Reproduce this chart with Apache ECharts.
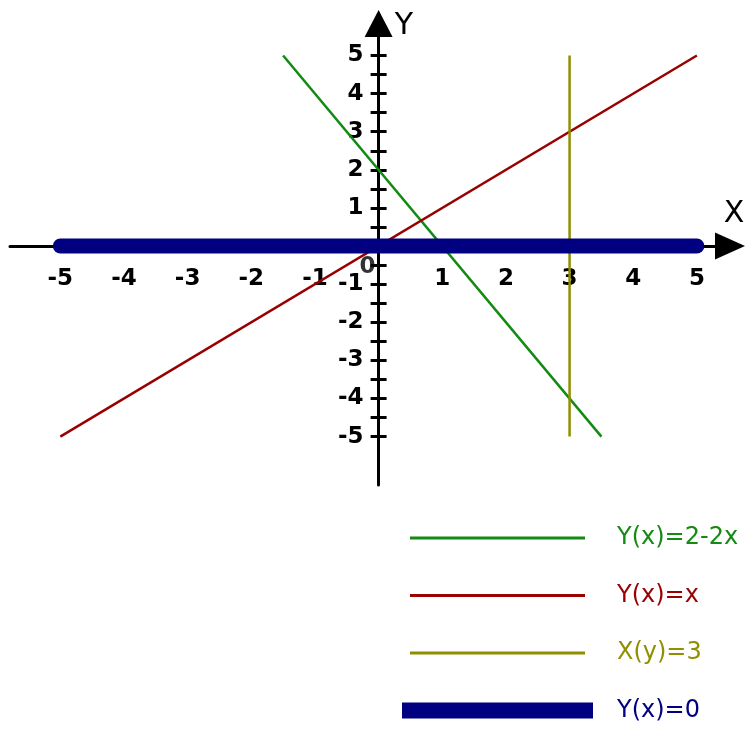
<!DOCTYPE html>
<html>
<head>
<meta charset="utf-8">
<script src="https://cdn.jsdelivr.net/npm/echarts@6/dist/echarts.min.js"></script>
<style>
  html, body { margin: 0; padding: 0; background: #fff; }
  #main { width: 747px; height: 736px; }
</style>
</head>
<body>
<div id="main"></div>
<script>
// tick labels
const xLabels = [-5, -4, -3, -2, -1, 1, 2, 3, 4, 5];
const yLabels = [-5, -4, -3, -2, -1, 1, 2, 3, 4, 5];
const yTicks = [-5, -4.5, -4, -3.5, -3, -2.5, -2, -1.5, -1, -0.5, 0, 0.5, 1, 1.5, 2, 2.5, 3, 3.5, 4, 4.5, 5];

// series: [x, y] end points
const greenLine = [[-1.5, 5], [3.5, -5]];   // Y(x)=2-2x
const redLine = [[-5, -5], [5, 5]];         // Y(x)=x
const oliveLine = [[3, -5], [3, 5]];        // X(y)=3
const blueLine = [[-5, 0], [5, 0]];         // Y(x)=0
const origin = [[0, 0]];

const names = ["Y(x)=2-2x", "Y(x)=x", "X(y)=3", "Y(x)=0"];
const colors = ["#138a13", "#990000", "#8f8f00", "#000080"];

const chart = echarts.init(document.getElementById("main"));
const font = "DejaVu Sans";

// grid box and axis ranges
const gLeft = 10, gRight = 17, gTop = 23.5, gBottom = 251;
const xMin = -5.79, xMax = 5.52, yMin = -6.27, yMax = 5.84;
const gW = 747 - gLeft - gRight, gH = 736 - gTop - gBottom;
// pixel of the origin, used to put the axes through 0
const zeroX = gLeft + (0 - xMin) / (xMax - xMin) * gW;
const zeroY = gTop + (yMax - 0) / (yMax - yMin) * gH;

const axisLine = { lineStyle: { color: "#000", width: 3 } };
const tickLabel = { fontFamily: font, fontSize: 23, fontWeight: "bold", color: "#000" };

const option = {
    animation: false,
    grid: { left: gLeft, right: gRight, top: gTop, bottom: gBottom, containLabel: false, outerBoundsMode: "none" },
    xAxis: {
        type: "value",
        min: xMin,
        max: xMax,
        position: "bottom",
        offset: zeroY - (gTop + gH),
        axisLine: { ...axisLine, onZero: false, symbol: ["none", "triangle"], symbolSize: [27, 30] },
        axisTick: { show: false },
        splitLine: { show: false },
        axisLabel: { customValues: xLabels, margin: 21, ...tickLabel },
    },
    yAxis: [
        {
            type: "value",
            min: yMin,
            max: yMax,
            position: "left",
            offset: gLeft - zeroX,
            axisLine: { ...axisLine, onZero: false, symbol: ["none", "triangle"], symbolSize: [28, 27] },
            axisTick: { show: true, customValues: yTicks, length: 8, lineStyle: { color: "#000", width: 3 } },
            splitLine: { show: false },
            axisLabel: { customValues: yLabels, margin: 15, ...tickLabel },
        },
        {
            type: "value",
            min: yMin,
            max: yMax,
            position: "right",
            offset: zeroX - (gLeft + gW),
            axisLine: { show: false, onZero: false },
            axisTick: { show: true, customValues: yTicks, length: 8, lineStyle: { color: "#000", width: 3 } },
            splitLine: { show: false },
            axisLabel: { show: false },
        },
    ],
    graphic: [
        { type: "text", x: 734, y: 214, style: { text: "X", font: "30px " + font, fill: "#000", align: "center", verticalAlign: "middle" } },
        { type: "text", x: 404, y: 26, style: { text: "Y", font: "30px " + font, fill: "#000", align: "center", verticalAlign: "middle" } },
    ],
    legend: {
        orient: "vertical",
        left: 402,
        top: 526,
        padding: 0,
        itemWidth: 175,
        itemHeight: 16,
        itemGap: 33.5,
        selectedMode: false,
        textStyle: { fontFamily: font, fontSize: 24, padding: [0, 0, 0, 27] },
        data: names.map((n, i) => ({
            name: n,
            itemStyle: { opacity: 0 },
            lineStyle: i === 3 ? { width: 16, cap: "square", color: colors[i] } : { width: 3, color: colors[i] },
            textStyle: { color: colors[i] },
        })),
    },
    series: [
        { name: names[0], type: "line", data: greenLine, symbol: "none", color: colors[0], lineStyle: { width: 2.5 } },
        { name: names[1], type: "line", data: redLine, symbol: "none", color: colors[1], lineStyle: { width: 2.5 } },
        { name: names[2], type: "line", data: oliveLine, symbol: "none", color: colors[2], lineStyle: { width: 2.5 } },
        { name: names[3], type: "line", data: blueLine, symbol: "none", color: colors[3], lineStyle: { width: 15, cap: "round" } },
        {
            type: "scatter",
            data: origin,
            symbolSize: 0,
            silent: true,
            label: {
                show: true,
                formatter: "0",
                position: "inside",
                offset: [-11, 21],
                ...tickLabel,
            },
            z: 5,
        },
    ],
};
option && chart.setOption(option);
</script>
</body>
</html>
